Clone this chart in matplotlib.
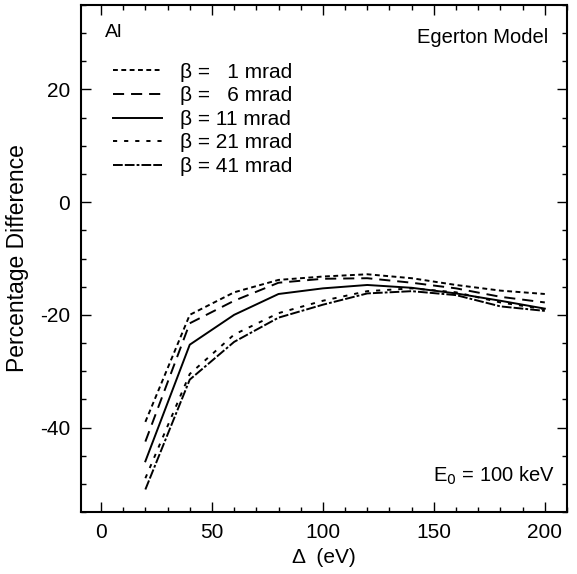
import matplotlib
matplotlib.use("Agg")
import matplotlib.pyplot as plt
from matplotlib.ticker import MultipleLocator

plt.rcParams['font.family'] = ['Liberation Sans', 'DejaVu Sans']
plt.rcParams['lines.scale_dashes'] = False
plt.rcParams['axes.unicode_minus'] = False

delta = [20, 40, 60, 80, 100, 120, 140, 160, 180, 200]
beta_labels = ["β =   1 mrad", "β =   6 mrad", "β = 11 mrad",
               "β = 21 mrad", "β = 41 mrad"]
b1 = [-39.0, -20.0, -16.0, -13.8, -13.2, -12.8, -13.5, -14.7, -15.7, -16.3]
b6 = [-42.5, -21.5, -17.5, -14.3, -13.6, -13.5, -14.3, -15.3, -16.8, -17.8]
b11 = [-46.0, -25.3, -20.0, -16.3, -15.3, -14.7, -15.2, -16.2, -17.5, -18.9]
b21 = [-49.0, -30.5, -23.5, -19.7, -17.5, -15.8, -15.3, -16.0, -17.8, -19.0]
b41 = [-51.0, -31.5, -24.8, -20.5, -18.2, -16.2, -15.8, -16.5, -18.5, -19.3]
series = [b1, b6, b11, b21, b41]
dash_styles = [(0, (3.5, 2.5)), (0, (8, 5)), '-', (0, (3, 5)), (0, (7, 1.5, 7, 1.5, 2, 1.5))]

fig = plt.figure(figsize=(5.77, 5.74), dpi=100)
ax = fig.add_axes([0.1404, 0.108, 0.8423, 0.8833])

for ys, ls, lab in zip(series, dash_styles, beta_labels):
    ax.plot(delta, ys, color='black', lw=1.4, linestyle=ls, label=lab)

ax.set_xlim(-9, 210)
ax.set_ylim(-55, 35)
ax.xaxis.set_major_locator(MultipleLocator(50))
ax.xaxis.set_minor_locator(MultipleLocator(10))
ax.yaxis.set_major_locator(MultipleLocator(20))
ax.yaxis.set_minor_locator(MultipleLocator(5))
ax.tick_params(which='both', direction='in', top=True, right=True, labelsize=15, width=1.0)
ax.tick_params(which='major', length=7, pad=8)
ax.tick_params(which='minor', length=3.5)
for s in ax.spines.values():
    s.set_linewidth(1.5)

ax.set_xlabel("Δ  (eV)", fontsize=15, labelpad=4)
ax.set_ylabel("Percentage Difference", fontsize=16.5, labelpad=8)

ax.text(0.049, 0.962, "Al", transform=ax.transAxes, fontsize=14, va='top', ha='left')
ax.text(0.962, 0.955, "Egerton Model", transform=ax.transAxes, fontsize=14.5, va='top', ha='right')
ax.text(0.975, 0.05, r"E$_0$ = 100 keV", transform=ax.transAxes, fontsize=14.5, va='bottom', ha='right')

ax.legend(loc='upper left', bbox_to_anchor=(0.035, 0.915), frameon=False, fontsize=15,
          handlelength=2.35, handletextpad=0.9, labelspacing=0.22, borderpad=0.2)

fig.savefig("out.png", dpi=100)
